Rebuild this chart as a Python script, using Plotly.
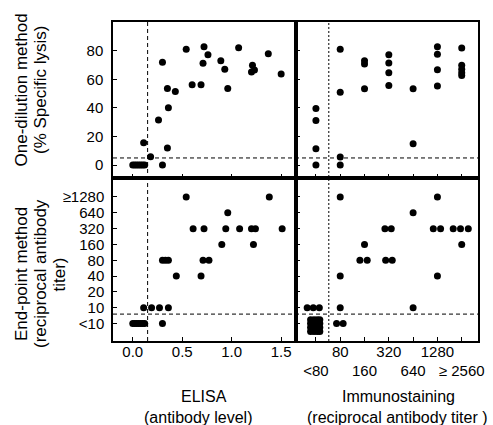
import plotly.graph_objects as go

# ---------------- data ----------------
# Top-left: ELISA antibody level vs % specific lysis
tl_x = [0.0, 0.02, 0.04, 0.06, 0.08, 0.10, 0.12, 0.11, 0.18, 0.30, 0.35, 0.26, 0.36, 0.35, 0.43,
        0.30, 0.54, 0.60, 0.69, 0.71, 0.72, 0.76, 0.89, 0.93, 0.96, 1.07, 1.21, 1.23, 1.20, 1.37, 1.50]
tl_y = [0, 0, 0, 0, 0, 0, 0, 15.6, 5.8, 0, 12, 31.5, 40, 53.6, 51.5,
        71.8, 81, 56.2, 56.2, 71.1, 82.7, 77.1, 73, 67, 53.6, 82, 69.7, 66.4, 65, 77.8, 63.6]

# Bottom-left: ELISA vs end-point titer category index
bl_x = [0.0, 0.02, 0.04, 0.06, 0.08, 0.10, 0.12, 0.30, 0.11, 0.19, 0.27, 0.36, 0.30, 0.33, 0.36,
        0.44, 0.69, 0.54, 1.38, 0.96, 0.61, 0.72, 0.94, 1.08, 1.20, 1.24, 1.51, 0.90, 1.22, 0.71, 0.77]
bl_y = [0, 0, 0, 0, 0, 0, 0, 0, 1, 1, 1, 1, 4, 4, 4,
        3, 3, 8, 8, 7, 6, 6, 6, 6, 6, 6, 6, 5, 5, 4, 4]

# Top-right: immunostaining titer category vs % specific lysis
tr_x = [0, 0, 0, 0, 1, 1, 1, 1, 2, 2, 2, 3, 3, 3, 3, 4, 4, 5, 5, 5, 5, 6, 6, 6, 6, 6]
tr_y = [39.6, 31.2, 11.4, 0, 80.9, 51, 5.6, 0, 73, 70.6, 53.4, 77.1, 71.3, 64.5, 55.7,
        53.4, 14.9, 82.7, 77.4, 66.7, 55.2, 81.8, 69.7, 67, 64.5, 62.7]

# Bottom-right: immunostaining category vs end-point category (jittered)
br_x = [-0.36, -0.11, 0.14, 1.0, 4.0, 0.85, 1.12, 1.0, 5.0, 4.0, 2.84, 3.1, 4.83, 5.13,
        5.65, 5.95, 6.27, 2.0, 6.0, 1.81, 2.11, 2.87, 3.14, 1.0, 5.0,
        -0.22, -0.08, 0.05, 0.16, -0.22, -0.08, 0.05, 0.16,
        -0.22, -0.08, 0.05, 0.16, -0.22, -0.08, 0.05, 0.16]
br_y = [1, 1, 1, 1, 1, 0, 0, 8, 8, 7, 6, 6, 6, 6,
        6, 6, 6, 5, 5, 4, 4, 4, 4, 3, 3,
        0.25, 0.25, 0.25, 0.25, 0.0, 0.0, 0.0, 0.0,
        -0.25, -0.25, -0.25, -0.25, -0.5, -0.5, -0.5, -0.5]

lysis_ticks = [0, 20, 40, 60, 80]
elisa_ticks = [0.0, 0.5, 1.0, 1.5]
elisa_labels = ["0.0", "0.5", "1.0", "1.5"]
endpoint_labels = ["&lt;10", "10", "20", "40", "80", "160", "320", "640", "≥1280"]
immuno_upper = ["", "80", "", "320", "", "1280", ""]
immuno_lower_vals = [0, 2, 4, 6]
immuno_lower = ["&lt;80", "160", "640", "≥ 2560"]

elisa_cut = 0.15
lysis_cut = 5
endpoint_cut = 0.6
immuno_cut = 0.53

# ---------------- figure ----------------
W, H = 493, 425
xl = [113 / W, 296 / W]
xr = [296 / W, 478 / W]
yt = [1 - 178 / H, 1 - 22 / H]
yb = [1 - 341 / H, 1 - 178 / H]

FONT = "Liberation Sans, Arial, sans-serif"
mk = dict(color="black", size=7)

fig = go.Figure()
fig.add_trace(go.Scatter(x=tl_x, y=tl_y, mode="markers", marker=mk, xaxis="x", yaxis="y"))
fig.add_trace(go.Scatter(x=tr_x, y=tr_y, mode="markers", marker=mk, xaxis="x2", yaxis="y2"))
fig.add_trace(go.Scatter(x=bl_x, y=bl_y, mode="markers", marker=mk, xaxis="x3", yaxis="y3"))
fig.add_trace(go.Scatter(x=br_x, y=br_y, mode="markers", marker=mk, xaxis="x4", yaxis="y4"))
# same points on the overlaid label axis (invisible) so that axis gets drawn
fig.add_trace(go.Scatter(x=br_x, y=br_y, mode="markers", marker=dict(color="black", size=7, opacity=0),
                         hoverinfo="skip", xaxis="x5", yaxis="y4"))

tickf = dict(family=FONT, size=15, color="black")
ax_common = dict(showline=True, linecolor="black", linewidth=1.5, mirror=True,
                 ticks="inside", ticklen=4, tickcolor="black", tickwidth=1,
                 showgrid=False, zeroline=False, automargin=False, tickangle=0,
                 tickfont=tickf)

fig.update_layout(
    width=W, height=H, margin=dict(l=0, r=0, t=0, b=0),
    paper_bgcolor="white", plot_bgcolor="white", showlegend=False,
    font=dict(family=FONT, size=14, color="black"),
    xaxis=dict(domain=xl, range=[-0.2, 1.65], anchor="y", tickvals=elisa_ticks,
               showticklabels=False, **ax_common),
    yaxis=dict(domain=yt, range=[-9, 100], anchor="x", tickvals=lysis_ticks,
               ticklabelstandoff=5, **ax_common),
    xaxis2=dict(domain=xr, range=[-0.82, 6.67], anchor="y2", tickvals=list(range(7)),
                showticklabels=False, **ax_common),
    yaxis2=dict(domain=yt, range=[-9, 100], anchor="x2", tickvals=lysis_ticks,
                showticklabels=False, **ax_common),
    xaxis3=dict(domain=xl, range=[-0.2, 1.65], anchor="y3", tickvals=elisa_ticks,
                ticktext=elisa_labels, ticklabelstandoff=-4, **ax_common),
    yaxis3=dict(domain=yb, range=[-1.1, 9.2], anchor="x3", tickvals=list(range(9)),
                ticktext=endpoint_labels, ticklabelstandoff=4, **ax_common),
    xaxis4=dict(domain=xr, range=[-0.82, 6.67], anchor="y4", tickvals=list(range(7)),
                ticktext=immuno_upper, ticklabelstandoff=-4, **ax_common),
    xaxis5=dict(overlaying="x4", anchor="y4", side="bottom", range=[-0.82, 6.67],
                tickvals=immuno_lower_vals, ticktext=immuno_lower, showline=False,
                ticks="", showgrid=False, zeroline=False, automargin=False, tickangle=0,
                ticklabelstandoff=19, tickfont=tickf),
    yaxis4=dict(domain=yb, range=[-1.1, 9.2], anchor="x4", tickvals=list(range(9)),
                showticklabels=False, **ax_common),
)

dash_line = dict(color="black", width=1, dash="4px,3px")
fig.add_shape(type="line", xref="paper", yref="y", x0=xl[0], x1=xr[1], y0=lysis_cut, y1=lysis_cut, line=dash_line)
fig.add_shape(type="line", xref="paper", yref="y3", x0=xl[0], x1=xr[1], y0=endpoint_cut, y1=endpoint_cut, line=dash_line)
fig.add_shape(type="line", xref="x", yref="paper", x0=elisa_cut, x1=elisa_cut, y0=yb[0], y1=yt[1], line=dash_line)
fig.add_shape(type="line", xref="x2", yref="paper", x0=immuno_cut, x1=immuno_cut, y0=yb[0], y1=yt[1],
              line=dict(color="black", width=1, dash="2px,2px"))

ytf = dict(family=FONT, size=17, color="black")
xtf = dict(family=FONT, size=16, color="black")


def label(text, x, y, font, angle=0):
    fig.add_annotation(text=text, xref="paper", yref="paper", x=x / W, y=1 - y / H,
                       textangle=angle, showarrow=False, font=font,
                       xanchor="center", yanchor="middle")


label("One-dilution method", 20.5, 90, ytf, -90)
label("(% Specific lysis)", 40, 90, ytf, -90)
label("End-point method", 21, 274, ytf, -90)
label("(reciprocal antibody", 40, 274, ytf, -90)
label("titer)", 58.5, 275, ytf, -90)
label("ELISA", 204, 396, xtf)
label("(antibody level)", 198, 417, xtf)
label("Immunostaining", 398, 396, xtf)
label("(reciprocal antibody titer )", 397, 417, xtf)

fig.write_html("out.html", config={"displayModeBar": False},
               post_script="document.body.style.margin='0px';document.body.style.overflow='hidden';")
